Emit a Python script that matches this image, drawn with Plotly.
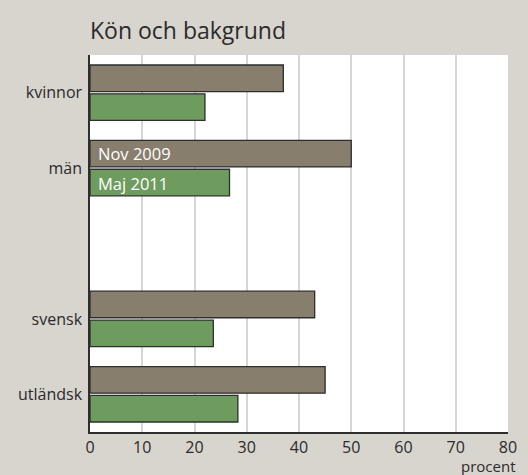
import plotly.graph_objects as go

categories = ["kvinnor", "män", "svensk", "utländsk"]
positions = [0, 1, 3, 4]
nov_2009 = [37, 50, 43, 45]
maj_2011 = [22, 26.7, 23.6, 28.3]
series_names = ["Nov 2009", "Maj 2011"]
x_ticks = [0, 10, 20, 30, 40, 50, 60, 70, 80]

FONT = "Open Sans"
TXT = "#2b2b2b"

fig = go.Figure()
for name, vals, col in [(series_names[0], nov_2009, "#877e6e"),
                        (series_names[1], maj_2011, "#6e9c5e")]:
    fig.add_trace(go.Bar(
        y=positions, x=vals, orientation="h", name=name,
        marker=dict(color=col, line=dict(color="#2e2e2e", width=1.3)),
        hoverinfo="skip",
    ))

fig.update_layout(
    width=528, height=475,
    paper_bgcolor="#d8d4ce", plot_bgcolor="white",
    margin=dict(l=90, r=11, t=55, b=43),
    barmode="group", bargap=0.235, bargroupgap=0.08,
    showlegend=False,
    font=dict(family=FONT, color=TXT, size=16),
    title=dict(text="Kön och bakgrund", x=90 / 528, xanchor="left",
               y=1 - 31 / 475, yanchor="middle",
               font=dict(size=23, family=FONT, color=TXT)),
    xaxis=dict(range=[0, 80], tickvals=x_ticks, ticktext=[str(t) for t in x_ticks],
               showgrid=True, gridcolor="#d6d6d6", gridwidth=1.5,
               showline=True, linecolor="#2e2e2e", linewidth=1.5,
               ticks="", zeroline=False, tickfont=dict(size=16, color=TXT),
               fixedrange=True),
    yaxis=dict(range=[4.5, -0.5], tickvals=positions, ticktext=categories,
               showgrid=False, showline=True, linecolor="#2e2e2e", linewidth=1.5,
               ticks="", zeroline=False, tickfont=dict(size=16, color=TXT),
               ticklabelstandoff=3, fixedrange=True),
)

# series labels inside the "män" bars
men_pos = positions[categories.index("män")]
for name, shift in zip(series_names, [15, -15]):
    fig.add_annotation(text=name, x=0, y=men_pos, xref="x", yref="y",
                       xanchor="left", yanchor="middle", xshift=6, yshift=shift,
                       showarrow=False,
                       font=dict(size=16.5, color="white", family=FONT))

fig.add_annotation(text="procent", xref="paper", yref="paper",
                   x=1 + 10 / 427, y=-34 / 377, xanchor="right", yanchor="middle",
                   showarrow=False, font=dict(size=15, color=TXT, family=FONT))

fig.write_html("out.html", config={"displayModeBar": False})

# remove default page margin so the figure sits at the window's top-left
with open("out.html", encoding="utf-8") as f:
    html = f.read()
html = html.replace("<head>", "<head><style>html,body{margin:0;padding:0;}</style>", 1)
with open("out.html", "w", encoding="utf-8") as f:
    f.write(html)
